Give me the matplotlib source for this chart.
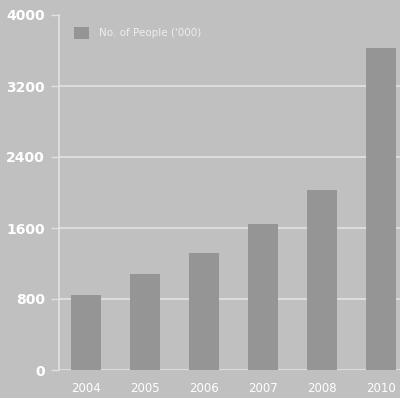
import matplotlib
matplotlib.use("Agg")
import matplotlib.pyplot as plt

years = ["2004", "2005", "2006", "2007", "2008", "2010"]
people = [845, 1080, 1315, 1645, 2030, 3630]
y_ticks = [0, 800, 1600, 2400, 3200, 4000]

bg = "#c0c0c0"
bar_color = "#959595"
line_color = "#e2e2e2"

fig = plt.figure(figsize=(4.0, 3.98), dpi=100, facecolor=bg)
ax = fig.add_axes([59 / 400, 28 / 398, 341 / 400, 355 / 398], facecolor=bg)

x = list(range(len(years)))
ax.bar(x, people, width=0.5, color=bar_color, zorder=3, label="No. of People ('000)")

ax.set_xlim(-0.46, 5.32)
ax.set_ylim(0, 4000)
ax.set_yticks(y_ticks)
ax.set_yticklabels([str(v) for v in y_ticks], fontsize=10, fontweight="bold", color="white")
ax.set_xticks(x)
ax.set_xticklabels(years, fontsize=8.5, color="white")

for v in y_ticks[:-1]:
    ax.axhline(v, color=line_color, linewidth=1.2, zorder=1)

for s in ["top", "right", "bottom"]:
    ax.spines[s].set_visible(False)
ax.spines["left"].set_color(line_color)
ax.spines["left"].set_linewidth(1.2)
ax.tick_params(axis="y", colors=line_color, length=6, width=1, pad=4, labelcolor="white")
ax.tick_params(axis="x", length=0, pad=9, labelcolor="white")

leg = ax.legend(loc="upper left", frameon=False, prop={"size": 7.5},
                handlelength=1.5, handleheight=1.5, handletextpad=0.9,
                borderaxespad=0.2, bbox_to_anchor=(0.025, 0.985))
for t in leg.get_texts():
    t.set_color("#eeeeee")

fig.savefig("out.png", dpi=100, facecolor=bg)
